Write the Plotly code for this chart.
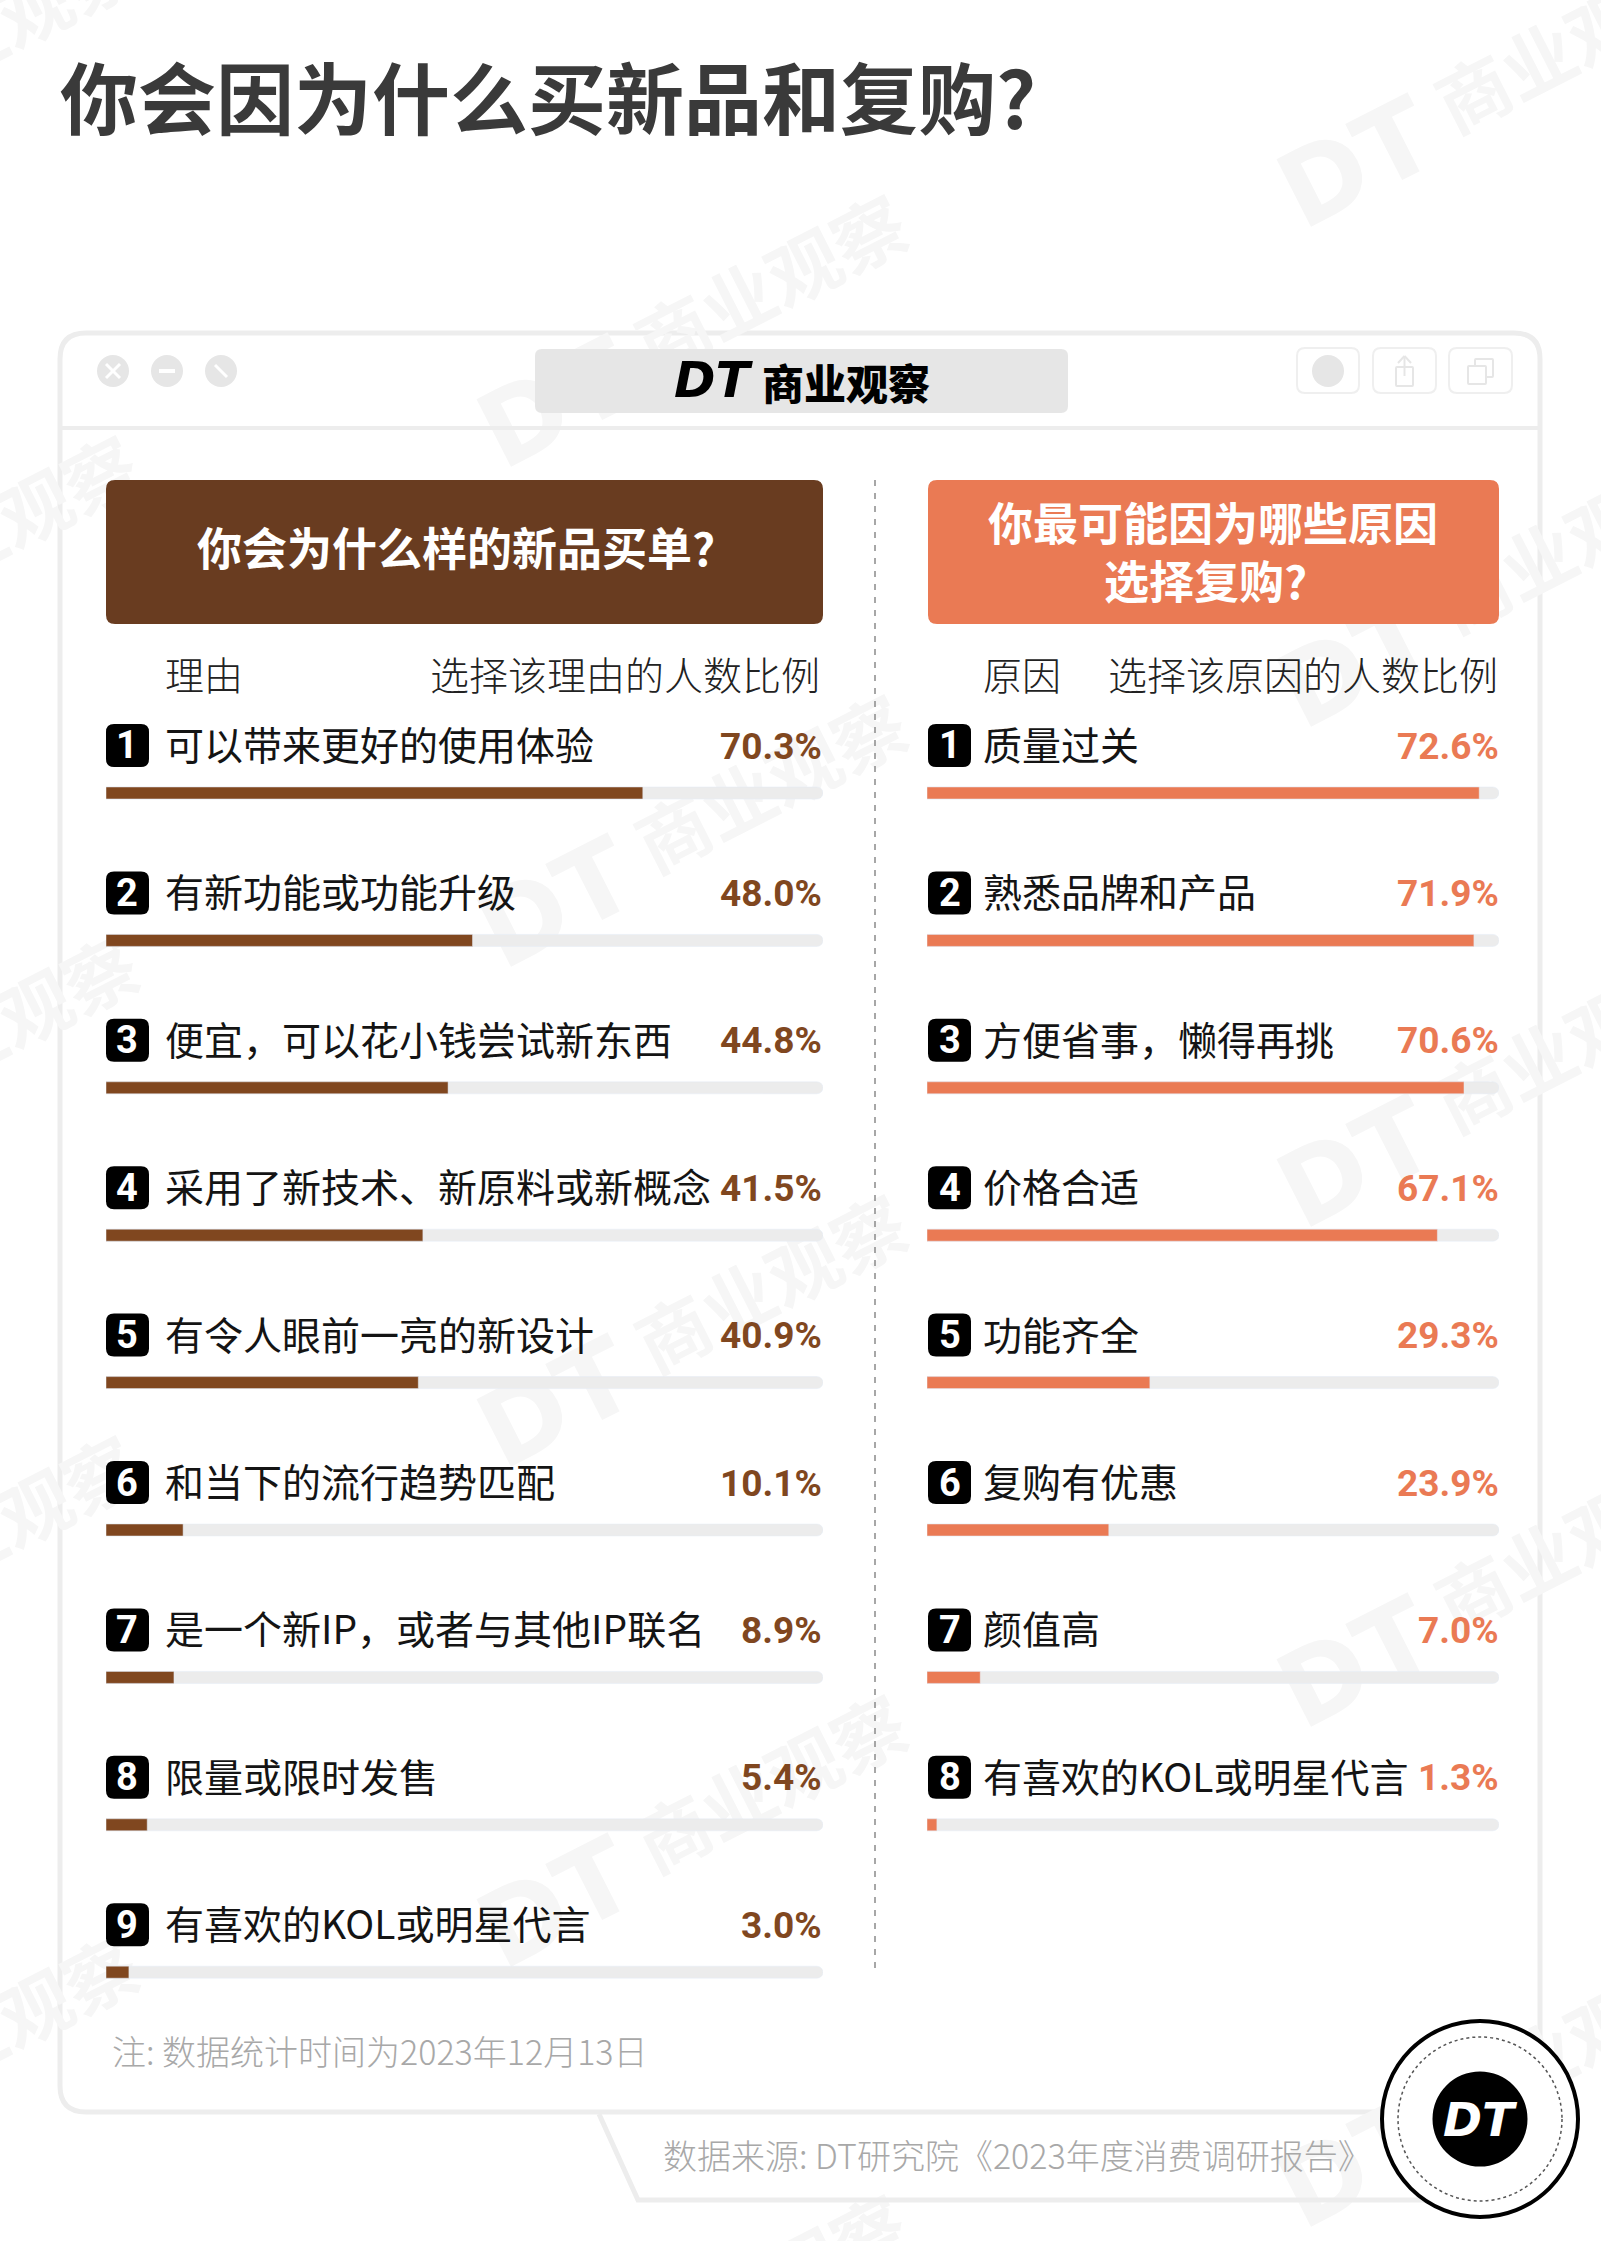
import plotly.graph_objects as go

W, H = 1601, 2241

# Data
buy_reasons = ["可以带来更好的使用体验", "有新功能或功能升级", "便宜，可以花小钱尝试新东西",
               "采用了新技术、新原料或新概念", "有令人眼前一亮的新设计", "和当下的流行趋势匹配",
               "是一个新IP，或者与其他IP联名", "限量或限时发售", "有喜欢的KOL或明星代言"]
buy_values = [70.3, 48.0, 44.8, 41.5, 40.9, 10.1, 8.9, 5.4, 3.0]
rebuy_reasons = ["质量过关", "熟悉品牌和产品", "方便省事，懒得再挑", "价格合适", "功能齐全",
                 "复购有优惠", "颜值高", "有喜欢的KOL或明星代言"]
rebuy_values = [72.6, 71.9, 70.6, 67.1, 29.3, 23.9, 7.0, 1.3]

BUY_MAX = 93.9
REBUY_MAX = 75.2

BROWN = "#80471f"
BROWN_HEAD = "#693c20"
ORANGE = "#ea7a54"
TRACK = "#ececec"
EDGE = "#ededed"
MARK = "#f6f6f6"
CJK = "Noto Sans CJK SC"

ROW0 = 793
STEP = 147.4


def px(x):
    return x / W


def py(y):
    return 1 - y / H


def rrect(x0, y0, x1, y1, r):
    # rounded box as svg path, paper coordinates
    a, b, c, d = px(x0), py(y0), px(x1), py(y1)
    ax, ay = r / W, r / H
    return (f"M{a+ax},{b} L{c-ax},{b} Q{c},{b} {c},{b-ay} L{c},{d+ay} Q{c},{d} {c-ax},{d} "
            f"L{a+ax},{d} Q{a},{d} {a},{d+ay} L{a},{b-ay} Q{a},{b} {a+ax},{b} Z")


def box(x0, y0, x1, y1, r, fill="white", line=None, lw=0, layer="below"):
    return dict(type="path", xref="paper", yref="paper", path=rrect(x0, y0, x1, y1, r),
                fillcolor=fill, line=dict(color=line or fill, width=lw), layer=layer)


def circle(cx, cy, r, fill="white", line=None, lw=0, dash="solid", layer="below"):
    return dict(type="circle", xref="paper", yref="paper", x0=px(cx - r), x1=px(cx + r),
                y0=py(cy + r), y1=py(cy - r), fillcolor=fill,
                line=dict(color=line or fill, width=lw, dash=dash), layer=layer)


def seg(x0, y0, x1, y1, color, lw, dash="solid", layer="below"):
    return dict(type="line", xref="paper", yref="paper", x0=px(x0), x1=px(x1), y0=py(y0), y1=py(y1),
                line=dict(color=color, width=lw, dash=dash), layer=layer)


def label(x, y, text, size, color="#111111", anchor="left", weight=400, family=CJK, angle=0):
    return dict(xref="paper", yref="paper", x=px(x), y=py(y), text=text, showarrow=False, xanchor=anchor,
                yanchor="middle", textangle=angle,
                font=dict(family=family, size=size, color=color, weight=weight))


def stamp_text(cx, cy, text, size, family):
    # watermark text lives in a shape label so it stays under the panels and bars
    return dict(type="rect", xref="paper", yref="paper", x0=px(cx - 5), x1=px(cx + 5), y0=py(cy + 5), y1=py(cy - 5),
                line=dict(width=0), fillcolor="rgba(0,0,0,0)", layer="below",
                label=dict(text=f"<b>{text}</b>", textangle=-27, textposition="middle center",
                           font=dict(family=family, size=size, color=MARK)))


fig = go.Figure()

# grey tracks, then the values on top
fig.add_trace(go.Bar(y=buy_reasons, x=[BUY_MAX] * len(buy_values), orientation="h", width=0.0814,
                     marker=dict(color=TRACK, cornerradius=6), xaxis="x", yaxis="y"))
fig.add_trace(go.Bar(y=buy_reasons, x=buy_values, orientation="h", width=0.0814,
                     marker=dict(color=BROWN, cornerradius=6), xaxis="x", yaxis="y"))
fig.add_trace(go.Bar(y=rebuy_reasons, x=[REBUY_MAX] * len(rebuy_values), orientation="h", width=0.0814,
                     marker=dict(color=TRACK, cornerradius=6), xaxis="x2", yaxis="y2"))
fig.add_trace(go.Bar(y=rebuy_reasons, x=rebuy_values, orientation="h", width=0.0814,
                     marker=dict(color=ORANGE, cornerradius=6), xaxis="x2", yaxis="y2"))

shapes = []
annotations = []

# window frame
shapes.append(box(60, 333, 1540, 2112, 26, "white", EDGE, 5))

# watermarks
for dx, base in ((-216, 138), (553, 397), (1353, 157)):
    for k in range(5):
        cy = base + k * 500
        shapes.append(stamp_text(dx, cy, "DT", 104, "DejaVu Sans"))
        shapes.append(stamp_text(dx + 222, cy - 106, "商业观察", 73, CJK))

shapes.append(seg(60, 428, 1540, 428, EDGE, 4))
shapes.append(box(535, 349, 1068, 413, 7, "#e6e6e6"))
for cx in (113, 167, 221):
    shapes.append(circle(cx, 371, 16, "#e6e6e6"))
shapes += [seg(106, 364, 120, 378, "white", 3), seg(120, 364, 106, 378, "white", 3),
           seg(159, 371, 175, 371, "white", 4), seg(215, 365, 227, 377, "white", 3)]
for x0, x1 in ((1297, 1359), (1373, 1436), (1449, 1512)):
    shapes.append(box(x0, 348, x1, 393, 8, "white", "#efefef", 2))
shapes.append(circle(1328, 371, 16, "#e6e6e6"))
shapes.append(box(1396, 367, 1413, 386, 1, "white", "#e6e6e6", 2))
shapes.append(seg(1404.5, 356, 1404.5, 376, "#e6e6e6", 2))
shapes += [seg(1398, 363, 1404.5, 356, "#e6e6e6", 2), seg(1411, 363, 1404.5, 356, "#e6e6e6", 2)]
shapes.append(box(1475, 359, 1493, 377, 1, "white", "#e6e6e6", 2))
shapes.append(box(1468, 366, 1486, 384, 1, "white", "#e6e6e6", 2))
annotations.append(label(672, 380, "<b><i>DT</i></b>", 50, "black", family="DejaVu Sans"))
annotations.append(label(760, 381, "商业观察", 42, "black", weight=900))

# source tab below the window
shapes.append(dict(type="path", xref="paper", yref="paper",
                   path=f"M{px(599)},{py(2114)} L{px(638)},{py(2200)} L{px(1430)},{py(2200)}",
                   line=dict(color=EDGE, width=5), fillcolor="rgba(0,0,0,0)", layer="below"))

# panel headers
shapes.append(box(106, 480, 823, 624, 9, BROWN_HEAD))
shapes.append(box(928, 480, 1499, 624, 9, ORANGE))
annotations.append(label(456, 546, "你会为什么样的新品买单?", 45, "white", "center", 700))
annotations.append(label(1213, 521, "你最可能因为哪些原因", 45, "white", "center", 700))
annotations.append(label(1205, 580, "选择复购?", 45, "white", "center", 700))

# column headings
annotations.append(label(163, 673, "理由", 39, "#222222", weight=300))
annotations.append(label(822, 673, "选择该理由的人数比例", 39, "#222222", "right", 300))
annotations.append(label(981, 673, "原因", 39, "#222222", weight=300))
annotations.append(label(1500, 673, "选择该原因的人数比例", 39, "#222222", "right", 300))

# divider
shapes.append(seg(875, 480, 875, 1972, "#8a8a8a", 1.5, "6px,7px"))

# rows
panels = [(buy_reasons, buy_values, "x", "y", 106, 163, 824, BROWN),
          (rebuy_reasons, rebuy_values, "x2", "y2", 928, 981, 1501, ORANGE)]
for reasons, values, xa, ya, badge_x, text_x, right_x, color in panels:
    for i, (name, val) in enumerate(zip(reasons, values)):
        cy = ROW0 + i * STEP - 47.5
        shapes.append(box(badge_x, cy - 21.5, badge_x + 43, cy + 21.5, 8, "black"))
        annotations.append(label(badge_x + 21.5, cy, f"<b>{i + 1}</b>", 38, "white", "center", family="Roboto"))
        annotations.append(dict(xref="paper", yref=ya, x=px(text_x), y=name, yshift=50, text=name,
                                showarrow=False, xanchor="left", yanchor="middle",
                                font=dict(family=CJK, size=39, color="#141414", weight=400)))
        annotations.append(dict(xref="paper", yref=ya, x=px(right_x), y=name, yshift=47, text=f"<b>{val:.1f}%</b>",
                                showarrow=False, xanchor="right", yanchor="middle",
                                font=dict(family="Roboto", size=37, color=color)))

# title and notes
annotations.append(label(58, 95, "你会因为什么买新品和复购?", 78, "#3a3a3a", weight=700))
annotations.append(label(110, 2050, "注: 数据统计时间为2023年12月13日", 34, "#a8a8a8", weight=300))
annotations.append(label(661, 2154, "数据来源: DT研究院《2023年度消费调研报告》", 34, "#a8a8a8", weight=300))

# stamp
shapes.append(circle(1480, 2119, 98, "white", "black", 4, layer="above"))
shapes.append(circle(1480, 2119, 82, "rgba(0,0,0,0)", "#555555", 1.5, "dot", layer="above"))
shapes.append(circle(1480, 2119, 47.5, "black", layer="above"))
annotations.append(label(1480, 2119, "<b><i>DT</i></b>", 47, "white", "center", family="DejaVu Sans"))

top, bottom = ROW0 - STEP / 2, ROW0 + STEP * 8.5
hidden = dict(visible=False, showgrid=False, zeroline=False, fixedrange=True)
fig.update_layout(
    width=W, height=H, margin=dict(l=0, r=0, t=0, b=0), showlegend=False, barmode="overlay",
    paper_bgcolor="white", plot_bgcolor="rgba(0,0,0,0)", hovermode=False,
    xaxis=dict(domain=[px(106), px(823)], range=[0, BUY_MAX], anchor="y", **hidden),
    yaxis=dict(domain=[py(bottom), py(top)], type="category", categoryorder="array", categoryarray=buy_reasons,
               range=[8.5, -0.5], anchor="x", **hidden),
    xaxis2=dict(domain=[px(927), px(1499)], range=[0, REBUY_MAX], anchor="y2", **hidden),
    yaxis2=dict(domain=[py(bottom), py(top)], type="category", categoryorder="array", categoryarray=rebuy_reasons,
                range=[8.5, -0.5], anchor="x2", **hidden),
    shapes=shapes, annotations=annotations,
)

fig.write_html("out.html", config=dict(displayModeBar=False),
               post_script="document.body.style.margin='0';")
